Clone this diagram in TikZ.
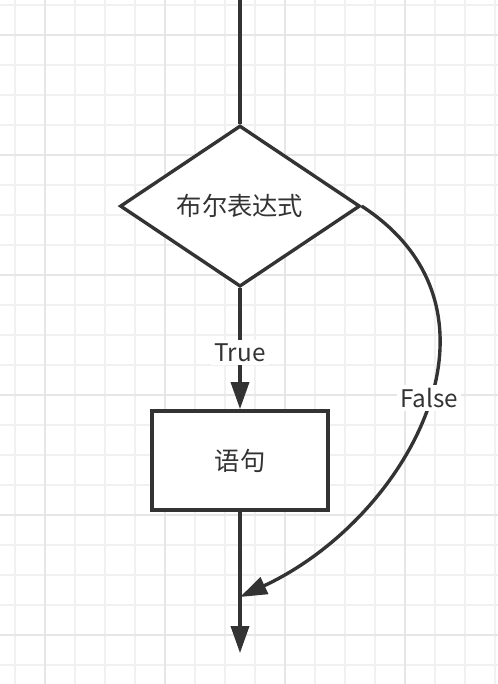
\documentclass[tikz,border=0pt]{standalone}
\usepackage{fontspec}
\setmainfont{Noto Sans CJK SC}
\usepackage{tikz}
\usetikzlibrary{shapes.geometric,arrows.meta,positioning}
\definecolor{ink}{HTML}{333333}
\definecolor{gridminor}{HTML}{F1F1F1}
\definecolor{gridmajor}{HTML}{E6E6E6}

\begin{document}
\begin{tikzpicture}[
    wire/.style={draw=ink, line width=3.4pt},
    flow/.style={wire, -{Triangle[length=0.9cm, width=0.6cm]}},
    decision/.style={diamond, draw=ink, line width=3.2pt, fill=white, inner sep=0pt,
                     minimum width=8cm, minimum height=5.37cm},
    stmtbox/.style={rectangle, draw=ink, line width=3.6pt, fill=white,
                    minimum width=5.87cm, minimum height=3.3cm},
    lbl/.style={fill=white, text=ink, inner sep=3pt, font=\fontsize{23}{26}\selectfont}
  ]
  \useasboundingbox (0,0) rectangle (16.6,-22.8);
  \fill[white] (0,0) rectangle (16.6,-22.8);

  % background grid (minor every 1cm, major every 4cm)
  \foreach \x in {0.5,1.5,...,16.5} {
    \draw[gridminor, line width=1.5pt] (\x,0) -- (\x,-22.8);
  }
  \foreach \y in {0.1667,1.1667,...,22.7} {
    \draw[gridminor, line width=1.5pt] (0,-\y) -- (16.6,-\y);
  }
  \foreach \x in {1.5,5.5,9.5,13.5} {
    \draw[gridmajor, line width=1.5pt] (\x,0) -- (\x,-22.8);
  }
  \foreach \y in {1.1667,5.1667,9.1667,13.1667,17.1667,21.1667} {
    \draw[gridmajor, line width=1.5pt] (0,-\y) -- (16.6,-\y);
  }

  % nodes
  \coordinate (start) at (8,0);
  \node[decision] (cond) at (8,-6.87) {\fontsize{24}{28}\selectfont\color{ink}布尔表达式};
  \node[stmtbox] (stmt) at (8,-15.35) {\fontsize{24}{28}\selectfont\color{ink}语句};
  \coordinate (join) at (8,-19.9);
  \coordinate (finish) at (8,-21.77);

  % connectors
  \draw[wire] (start) -- (cond.north);
  \draw[flow] (cond.south) -- node[lbl, pos=0.53] {True} (stmt.north);
  \draw[flow] (stmt.south) -- (finish);
  \draw[flow, line width=3.2pt] (cond.east) .. controls +(-33:6.4) and +(25:6.2) .. node[lbl, pos=0.47] {False} (join);
\end{tikzpicture}
\end{document}
